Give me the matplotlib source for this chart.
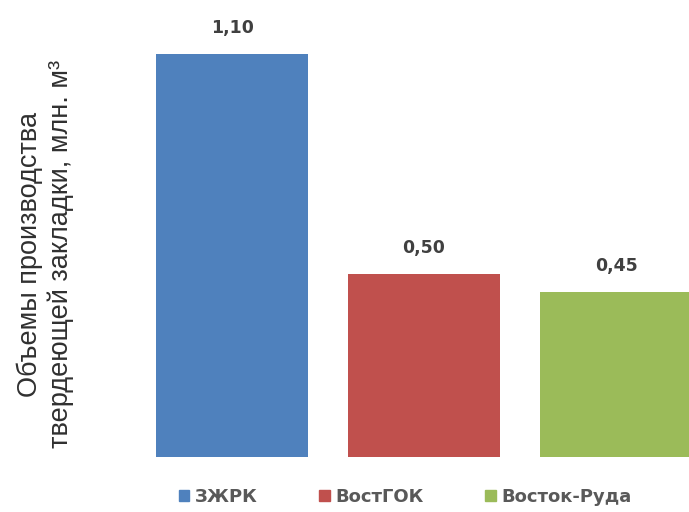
import numpy as np
import matplotlib.pyplot as plt
from matplotlib.patches import Patch

companies = ['ЗЖРК', 'ВостГОК', 'Восток-Руда']
volumes = [1.10, 0.50, 0.45]
labels = ['1,10', '0,50', '0,45']
colors = ['#4F81BD', '#C0504D', '#9BBB59']

W, H = 689, 512
fig = plt.figure(figsize=(W / 100, H / 100), dpi=100)
# axes placed in pixel terms: left 136, bottom at baseline 457
ax = fig.add_axes([136 / W, 1 - 457 / H, (W - 136) / W, 457 / H])

x = np.arange(len(companies))
ax.bar(x, volumes, width=0.79, color=colors)
for xi, v, lab in zip(x, volumes, labels):
    ax.annotate(lab, (xi, v), xytext=(0, 17), textcoords='offset pixels',
                ha='center', va='bottom', fontsize=12.5, fontweight='bold',
                color='#404040', family='DejaVu Sans')

ax.set_xlim(-0.5, 2.38)
ax.set_ylim(0, 457 / 366.4)
ax.axis('off')

fig.text(45 / W, 1 - 254 / H, 'Объемы производства\nтвердеющей закладки, млн. м³',
         rotation=90, ha='center', va='center', fontsize=19.5,
         color='#303030', family='Liberation Sans', linespacing=1.2)

handles = [Patch(color=c) for c in colors]
fig.legend(handles, companies, loc='center', bbox_to_anchor=(405 / W, 1 - 497 / H),
           ncol=3, frameon=False, handlelength=0.6, handleheight=0.6,
           columnspacing=3.4, handletextpad=0.3,
           prop={'family': 'DejaVu Sans', 'weight': 'bold', 'size': 13},
           labelcolor='#595959')

fig.savefig('out.png', dpi=100)
